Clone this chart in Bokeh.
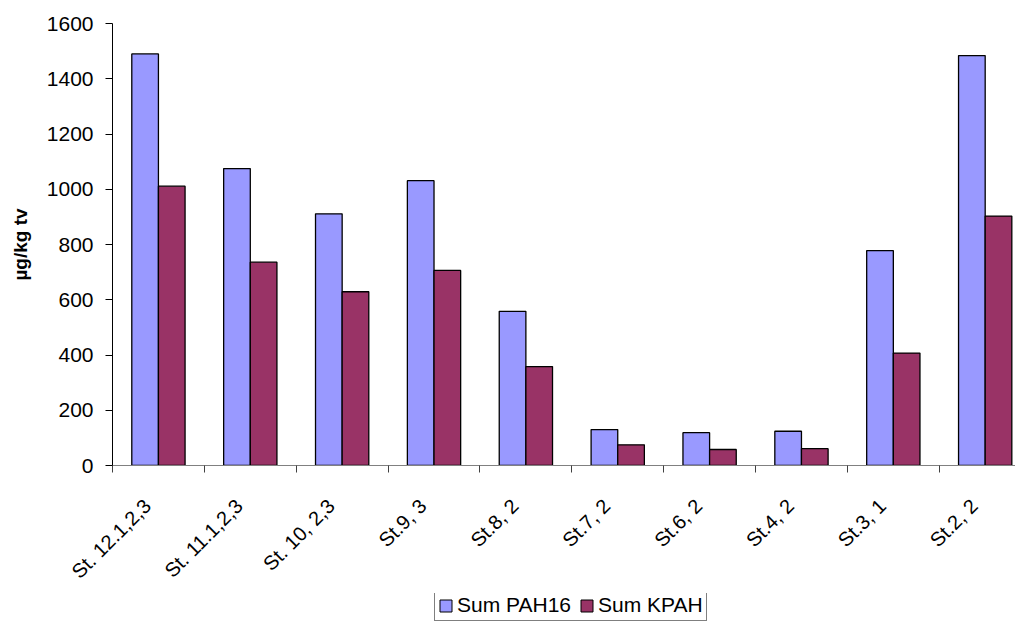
import math
import numpy as np
from bokeh.plotting import figure
from bokeh.layouts import column
from bokeh.models import (ColumnDataSource, Range1d, FixedTicker, Legend, LegendItem)
from bokeh.transform import dodge
from bokeh.embed import file_html
from bokeh.resources import INLINE

categories = ["St. 12.1,2,3", "St. 11.1,2,3", "St. 10, 2,3", "St.9, 3", "St.8, 2",
              "St.7, 2", "St.6, 2", "St.4, 2", "St.3, 1", "St.2, 2"]
sum_pah16 = [1490, 1075, 911, 1031, 558, 130, 119, 124, 778, 1484]
sum_kpah = [1011, 736, 629, 706, 358, 75, 58, 61, 407, 903]
y_ticks = [0, 200, 400, 600, 800, 1000, 1200, 1400, 1600]
series_names = ["Sum PAH16", "Sum KPAH"]

FONT = "Liberation Sans"
BLUE = "#9999FF"
MAROON = "#993366"

pos = list(np.arange(len(categories)) + 0.5)
src = ColumnDataSource(dict(x=pos, pah=sum_pah16, kpah=sum_kpah, cat=categories))

p = figure(width=1015, height=593, output_backend="svg", toolbar_location=None,
           x_range=Range1d(0, 9.83), y_range=Range1d(0, 1600),
           min_border_left=112, min_border_right=0, min_border_top=23, min_border_bottom=127)
p.outline_line_color = None
p.xgrid.visible = False
p.ygrid.visible = False
p.background_fill_color = "white"
p.border_fill_color = "white"

bw = 0.29
p.vbar(x=dodge("x", -bw / 2, range=p.x_range), top="pah", width=bw, source=src,
       fill_color=BLUE, line_color="black", line_width=1.3)
p.vbar(x=dodge("x", bw / 2, range=p.x_range), top="kpah", width=bw, source=src,
       fill_color=MAROON, line_color="black", line_width=1.3)

# x axis: invisible label ticks (nudged so the rotated label ends under the group),
# visible minor ticks at category boundaries
label_shift = -0.12
label_pos = [x + label_shift for x in pos]
xa = p.xaxis[0]
xa.ticker = FixedTicker(ticks=label_pos, minor_ticks=list(range(len(categories) + 1)))
xa.major_label_overrides = {float(x): c for x, c in zip(label_pos, categories)}
xa.major_label_orientation = math.pi / 4
xa.major_tick_line_color = None
xa.major_tick_out = 0
xa.major_tick_in = 0
xa.minor_tick_out = 7
xa.minor_tick_in = 0
xa.minor_tick_line_color = "#404040"
xa.axis_line_color = "#808080"
xa.axis_line_width = 1.2
xa.major_label_text_font = FONT
xa.major_label_text_font_size = "20px"
xa.major_label_text_color = "black"
xa.major_label_standoff = 30

# y axis
ya = p.yaxis[0]
ya.ticker = FixedTicker(ticks=y_ticks, minor_ticks=[])
ya.major_tick_out = 7
ya.major_tick_in = 0
ya.major_tick_line_color = "black"
ya.axis_line_color = "black"
ya.major_label_text_font = FONT
ya.major_label_text_font_size = "21px"
ya.major_label_text_color = "black"
ya.major_label_standoff = 12
ya.axis_label = "µg/kg tv"
ya.axis_label_text_font = FONT
ya.axis_label_text_font_size = "19px"
ya.axis_label_text_font_style = "bold"
ya.axis_label_text_color = "black"
ya.axis_label_standoff = 13

# legend strip below the chart (frames are aligned with the chart above)
lg = figure(width=1015, height=28, output_backend="svg", toolbar_location=None,
            x_axis_type=None, y_axis_type=None, x_range=Range1d(0, 1), y_range=Range1d(-3, -2),
            min_border=0)
lg.outline_line_color = None
lg.xgrid.visible = False
lg.ygrid.visible = False
k1 = lg.vbar(x="x", top="pah", width=0.1, source=src, fill_color=BLUE, line_color="black")
k2 = lg.vbar(x="x", top="kpah", width=0.1, source=src, fill_color=MAROON, line_color="black")
legend = Legend(items=[LegendItem(label=series_names[0], renderers=[k1], index=0),
                       LegendItem(label=series_names[1], renderers=[k2], index=0)],
                orientation="horizontal", location=(322, 0),
                glyph_width=15, glyph_height=15, label_standoff=4, spacing=8,
                label_height=20, padding=3, margin=0,
                border_line_color="black", border_line_width=1,
                label_text_font=FONT, label_text_font_size="21px", label_text_color="black",
                background_fill_alpha=1.0)
lg.add_layout(legend, "center")

layout = column(p, lg, spacing=0)
open("out.html", "w").write(file_html(layout, INLINE))
